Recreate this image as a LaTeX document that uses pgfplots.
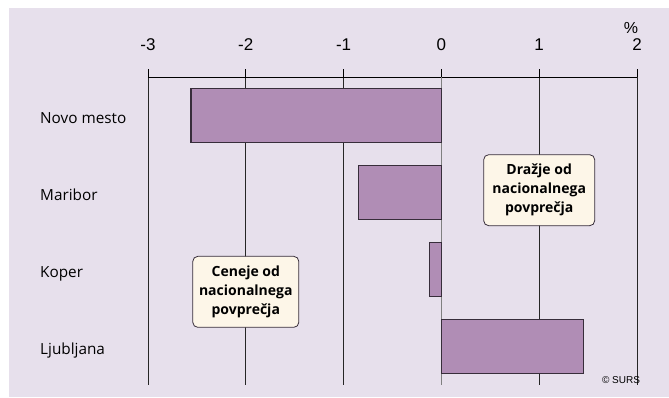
\documentclass[border=0pt]{standalone}
\usepackage{pgfplots}
\pgfplotsset{compat=1.18}
\usepackage{fontspec}
\setmainfont{Liberation Sans}
\newfontfamily\frut{Open Sans}
\definecolor{panel}{RGB}{231,224,236}
\definecolor{barfill}{RGB}{176,141,181}
\definecolor{baredge}{RGB}{55,45,58}
\definecolor{boxfill}{RGB}{253,246,232}

\begin{document}
\begin{tikzpicture}
% page and panel background (1px = 1pt, axis box lower left at origin)
\fill[white] (-148pt,-12pt) rectangle (521pt,385pt);
\fill[panel] (-139pt,-12pt) rectangle (521pt,377pt);
\begin{axis}[
  at={(0,0)}, anchor=south west,
  width=489pt, height=308pt, scale only axis,
  xmin=-3, xmax=2, ymin=-0.5, ymax=3.5,
  y dir=reverse,
  clip=false,
  axis x line=top, axis y line=left,
  x axis line style={-, black, line width=0.8pt},
  y axis line style={draw=none},
  xtick={-3,-2,-1,0,1,2},
  xticklabels={-3,-2,-1,0,1,2},
  xticklabel style={inner sep=0pt, yshift=18pt, font=\fontsize{17}{19}\selectfont},
  tick align=outside,
  major tick length=8pt,
  xtick style={black, line width=0.8pt},
  xmajorgrids,
  grid style={black!85, line width=0.8pt},
  extra x ticks={0},
  extra x tick labels={},
  extra x tick style={grid style={gray, line width=1.6pt}, major tick length=0pt},
  ytick={0,1,2,3},
  yticklabels={Novo mesto,Maribor,Koper,Ljubljana},
  ytick style={draw=none},
  yticklabel style={anchor=base west, inner sep=0pt, xshift=-100pt, yshift=-8pt,
    font=\frut\fontsize{15.3}{19}\selectfont},
]
\addplot[xbar, bar width=54pt, fill=barfill, draw=baredge, line width=1.2pt]
  coordinates {(-2.56,0) (-0.85,1) (-0.12,2) (1.45,3)};

\node[draw=baredge, fill=boxfill, rounded corners=5pt, line width=0.8pt,
  minimum width=111pt, minimum height=71pt, inner sep=2pt, align=center,
  font=\frut\bfseries\fontsize{14}{19}\selectfont]
  at (axis cs:1,0.97) {Dražje od\\nacionalnega\\povprečja};
\node[draw=baredge, fill=boxfill, rounded corners=5pt, line width=0.8pt,
  minimum width=106pt, minimum height=71pt, inner sep=2pt, align=center,
  font=\frut\bfseries\fontsize{14}{19}\selectfont]
  at (axis cs:-2,2.29) {Ceneje od\\nacionalnega\\povprečja};
\end{axis}
\node[font=\fontsize{16}{18}\selectfont] at (483pt,357pt) {\%};
\node[font=\fontsize{10}{12}\selectfont] at (473pt,5pt) {© SURS};
\end{tikzpicture}
\end{document}
